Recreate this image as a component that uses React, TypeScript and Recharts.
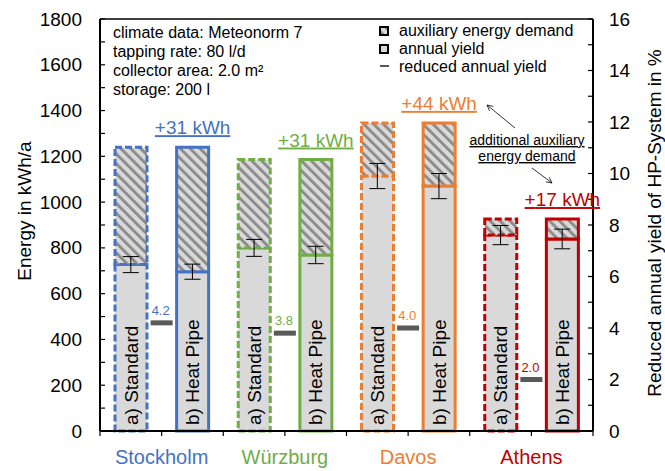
import {
  Bar,
  Cell,
  ComposedChart,
  Customized,
  ErrorBar,
  LabelList,
  ReferenceLine,
  Scatter,
  XAxis,
  YAxis,
} from "recharts";

const FONT = "'Liberation Sans', Arial, sans-serif";

const cities = ["Stockholm", "Würzburg", "Davos", "Athens"];
const cityColors = ["#4472C4", "#70AD47", "#ED7D31", "#C00000"];
const variants = ["a) Standard", "b) Heat Pipe"];

// one entry per bar: Standard, Heat Pipe for each city (kWh/a)
const totalEnergy = [1240, 1240, 1186, 1186, 1346, 1346, 926, 926];
const annualYield = [727, 696, 800, 769, 1114, 1070, 856, 839];
const yieldError = [35, 33, 37, 38, 55, 55, 42, 43];

// reduced annual yield of the HP system, % (one per city)
const reducedYield = [4.2, 3.8, 4.0, 2.0];

const energyTicks = [0, 100, 200, 300, 400, 500, 600, 700, 800, 900, 1000, 1100, 1200, 1300, 1400, 1500, 1600, 1700, 1800];
const percentTicks = [0, 1, 2, 3, 4, 5, 6, 7, 8, 9, 10, 11, 12, 13, 14, 15, 16];
const slotTicks = [0, 1, 2, 3, 4, 5, 6, 7, 8];

const rows = totalEnergy.map((total, i) => {
  const aux = total - annualYield[i];
  const prevAux = i % 2 ? totalEnergy[i - 1] - annualYield[i - 1] : 0;
  return {
    x: i + 0.5,
    city: Math.floor(i / 2),
    std: i % 2 === 0,
    variant: variants[i % 2],
    yield: annualYield[i],
    aux,
    err: yieldError[i],
    extra: i % 2 ? aux - prevAux : undefined,
  };
});

const reducedRows = reducedYield.map((v, i) => ({ x: i * 2 + 1, v, city: i }));

function LeftTick({ x, y, payload }: any) {
  const v = payload.value;
  return (
    <g>
      <line x1={x} x2={x + 5} y1={y} y2={y} stroke="#000" strokeWidth={1.2} />
      {v % 200 === 0 && (
        <text x={x - 18} y={y} textAnchor="end" dominantBaseline="central" fontSize={19} fontFamily={FONT} fill="#000">
          {v}
        </text>
      )}
    </g>
  );
}

function RightTick({ x, y, payload }: any) {
  const v = payload.value;
  return (
    <g>
      <line x1={x} x2={x - 5} y1={y} y2={y} stroke="#000" strokeWidth={1.2} />
      {v % 2 === 0 && (
        <text x={x + 16} y={y} textAnchor="start" dominantBaseline="central" fontSize={19} fontFamily={FONT} fill="#000">
          {v}
        </text>
      )}
    </g>
  );
}

function CityTick({ x, y, payload }: any) {
  const v = payload.value;
  const idx = (v - 1) / 2;
  return (
    <g>
      <line x1={x} x2={x} y1={y} y2={y + 5} stroke="#000" strokeWidth={1.2} />
      {v % 2 === 1 && (
        <text x={x} y={y + 33} textAnchor="middle" fontSize={20} fontFamily={FONT} fill={cityColors[idx]}>
          {cities[idx]}
        </text>
      )}
    </g>
  );
}

function VariantLabel(props: any) {
  const { x, y, width, height } = props.viewBox ?? props;
  const cx = x + width / 2;
  const bottom = y + height - 6;
  return (
    <text
      x={cx}
      y={bottom}
      transform={`rotate(-90 ${cx} ${bottom})`}
      dominantBaseline="central"
      fontSize={19}
      fontFamily={FONT}
      fill="#000"
    >
      {props.value}
    </text>
  );
}

function ExtraLabel(props: any) {
  if (props.value == null) return null;
  const { x, y, width } = props.viewBox ?? props;
  const color = cityColors[Math.floor(props.index / 2)];
  return (
    <text
      x={x + width / 2}
      y={y - 13}
      textAnchor="middle"
      fontSize={19}
      fontFamily={FONT}
      fill={color}
      textDecoration="underline"
    >
      +{props.value} kWh
    </text>
  );
}

function ReducedMark(props: any) {
  const { cx, cy, payload } = props;
  return (
    <g>
      <rect x={cx - 11} y={cy - 2.5} width={22} height={5} fill="#595959" />
      <text x={cx - 10} y={cy - 8} fontSize={13} fontFamily={FONT} fill={cityColors[payload.city]}>
        {payload.v.toFixed(1)}
      </text>
    </g>
  );
}

function Annotations() {
  return (
    <g fontFamily={FONT} fill="#000">
      <defs>
        <pattern id="hatch" patternUnits="userSpaceOnUse" width={7} height={7} patternTransform="rotate(-45)">
          <rect width={7} height={7} fill="#D9D9D9" />
          <rect width={2.8} height={7} fill="#8A8A8A" />
        </pattern>
        <marker id="arrowhead" viewBox="0 0 10 10" refX={9} refY={5} markerWidth={9} markerHeight={9} orient="auto">
          <path d="M1,1 L9,5 L1,9" fill="none" stroke="#000" strokeWidth={1} />
        </marker>
      </defs>

      <text transform="translate(31 211) rotate(-90)" textAnchor="middle" fontSize={19}>
        Energy in kWh/a
      </text>
      <text transform="translate(661 223) rotate(-90)" textAnchor="middle" fontSize={19}>
        Reduced annual yield of HP-System in %
      </text>

      <g fontSize={16}>
        <text x={113} y={38}>climate data: Meteonorm 7</text>
        <text x={113} y={57}>tapping rate: 80 l/d</text>
        <text x={113} y={76}>collector area: 2.0 m²</text>
        <text x={113} y={95}>storage: 200 l</text>
      </g>

      <g fontSize={16}>
        <rect x={380} y={27} width={8} height={8} fill="url(#hatch)" stroke="#000" strokeWidth={2} />
        <text x={399} y={36}>auxiliary energy demand</text>
        <rect x={380} y={45} width={8} height={8} fill="#D9D9D9" stroke="#000" strokeWidth={2} />
        <text x={399} y={54}>annual yield</text>
        <line x1={380} x2={389} y1={66} y2={66} stroke="#595959" strokeWidth={2} />
        <text x={399} y={72}>reduced annual yield</text>
      </g>

      <g fontSize={14} textAnchor="middle">
        <text x={527} y={145} textDecoration="underline">additional auxiliary</text>
        <text x={527} y={161} textDecoration="underline">energy demand</text>
      </g>
      <line x1={515} y1={128} x2={487} y2={105} stroke="#000" strokeWidth={0.8} markerEnd="url(#arrowhead)" />
      <line x1={532} y1={168} x2={552} y2={183} stroke="#000" strokeWidth={0.8} markerEnd="url(#arrowhead)" />
    </g>
  );
}

export default function App() {
  return (
    <div style={{ width: 665, height: 471, background: "#fff" }}>
      <style>{"body{margin:0}"}</style>
      <ComposedChart width={665} height={471} data={rows} margin={{ top: 19, right: 0, bottom: 0, left: 0 }}>
        <Customized component={Annotations} />
        <XAxis
          dataKey="x"
          type="number"
          domain={[0, 8]}
          ticks={slotTicks}
          interval={0}
          height={40}
          tickSize={0}
          tickMargin={0}
          tickLine={false}
          axisLine={{ stroke: "#000", strokeWidth: 2 }}
          tick={<CityTick />}
        />
        <XAxis xAxisId="r" dataKey="x" type="number" domain={[0, 8]} hide />
        <YAxis
          yAxisId="left"
          type="number"
          domain={[0, 1800]}
          ticks={energyTicks}
          interval={0}
          width={100}
          tickSize={0}
          tickMargin={0}
          tickLine={false}
          axisLine={{ stroke: "#000", strokeWidth: 2 }}
          tick={<LeftTick />}
        />
        <YAxis
          yAxisId="right"
          orientation="right"
          type="number"
          domain={[0, 16]}
          ticks={percentTicks}
          interval={0}
          width={72}
          tickSize={0}
          tickMargin={0}
          tickLine={false}
          axisLine={{ stroke: "#000", strokeWidth: 2 }}
          tick={<RightTick />}
        />
        <ReferenceLine yAxisId="left" y={1800} stroke="#000" strokeWidth={1.5} />

        <Bar yAxisId="left" dataKey="yield" stackId="s" barSize={32} fill="#D9D9D9" isAnimationActive={false}>
          {rows.map((r, i) => (
            <Cell key={i} stroke={cityColors[r.city]} strokeWidth={3} strokeDasharray={r.std ? "7 3" : undefined} />
          ))}
          <LabelList dataKey="variant" content={VariantLabel} />
        </Bar>
        <Bar yAxisId="left" dataKey="aux" stackId="s" barSize={32} fill="url(#hatch)" isAnimationActive={false}>
          {rows.map((r, i) => (
            <Cell key={i} stroke={cityColors[r.city]} strokeWidth={3} strokeDasharray={r.std ? "7 3" : undefined} />
          ))}
          <LabelList dataKey="extra" content={ExtraLabel} />
        </Bar>

        {/* error bars sit on top of the yield segment, drawn after the hatch */}
        <Scatter yAxisId="left" dataKey="yield" shape={() => <g />} isAnimationActive={false}>
          <ErrorBar dataKey="err" direction="y" width={8} stroke="#000" strokeWidth={1} />
        </Scatter>

        <Scatter
          xAxisId="r"
          yAxisId="right"
          data={reducedRows}
          dataKey="v"
          shape={ReducedMark}
          isAnimationActive={false}
        />
      </ComposedChart>
    </div>
  );
}
